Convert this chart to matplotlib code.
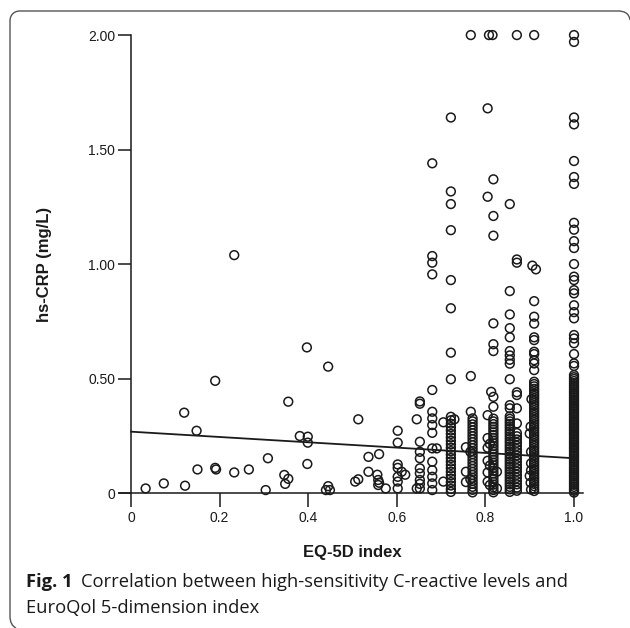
"""
Scatter of hs-CRP against EQ-5D index with linear fit line.
Output: out.png
"""

import matplotlib
matplotlib.use("Agg")
import matplotlib.pyplot as plt
from matplotlib.path import Path
from matplotlib.patches import PathPatch

# ─── Data ────────────────────────────────────────────────────────────────────

# scattered points below EQ-5D 0.6
low_x = [0.033, 0.074, 0.122, 0.120, 0.148, 0.150, 0.190, 0.190, 0.192, 0.233,
         0.233, 0.266, 0.304, 0.309, 0.355, 0.346, 0.355, 0.348, 0.381, 0.399,
         0.399, 0.398, 0.397, 0.445, 0.440, 0.445, 0.449, 0.513, 0.506, 0.513,
         0.536, 0.560, 0.536, 0.556, 0.558, 0.560, 0.558, 0.575]
low_y = [0.020, 0.042, 0.032, 0.351, 0.272, 0.103, 0.490, 0.110, 0.103, 1.039,
         0.090, 0.103, 0.013, 0.152, 0.399, 0.079, 0.062, 0.040, 0.249, 0.246,
         0.220, 0.127, 0.636, 0.552, 0.013, 0.030, 0.013, 0.322, 0.050, 0.060,
         0.158, 0.170, 0.093, 0.080, 0.057, 0.045, 0.035, 0.020]

# odd points next to the dense columns
extra_x = [0.611, 0.619, 0.645, 0.645, 0.690, 0.705, 0.705, 0.730, 0.808, 0.816,
           0.813, 0.826, 0.826, 0.906, 0.914, 0.904, 0.902, 0.900, 0.900, 0.902,
           0.810, 0.810, 0.810, 0.903, 0.903, 0.903, 0.903, 0.766, 0.766]
extra_y = [0.093, 0.080, 0.322, 0.020, 0.195, 0.309, 0.050, 0.322, 2.000, 2.000,
           0.442, 0.093, 0.020, 0.993, 0.977, 0.410, 0.290, 0.260, 0.075, 0.045,
           0.215, 0.120, 0.035, 0.180, 0.130, 0.100, 0.015, 0.180, 0.060]

# stacked columns: one EQ-5D value each
col_060 = [0.272, 0.220, 0.125, 0.110, 0.071, 0.050, 0.020]
col_065 = [0.400, 0.390, 0.224, 0.180, 0.152, 0.108, 0.086, 0.057, 0.040, 0.020]
col_068 = [1.440, 1.035, 1.006, 0.955, 0.450, 0.355, 0.326, 0.297, 0.263, 0.195,
           0.137, 0.100, 0.071, 0.042, 0.013]
col_072 = [1.640, 1.317, 1.262, 1.148, 0.930, 0.807, 0.613, 0.497,
           0.333, 0.318, 0.303, 0.288, 0.273, 0.258, 0.243, 0.228, 0.213, 0.198,
           0.183, 0.168, 0.153, 0.138, 0.123, 0.108, 0.093, 0.078, 0.063, 0.048,
           0.033, 0.018, 0.005]
col_076 = [0.200, 0.093, 0.048]
col_0767 = [2.000, 0.511, 0.355]
col_077 = [0.326, 0.313, 0.300, 0.287, 0.274, 0.261, 0.248, 0.235, 0.222, 0.209,
           0.196, 0.183, 0.170, 0.157, 0.144, 0.131, 0.118, 0.105, 0.092, 0.079,
           0.066, 0.053, 0.040, 0.027, 0.014, 0.003]
col_0805 = [1.680, 1.294, 0.340, 0.240, 0.198, 0.141, 0.090, 0.050]
col_082 = [1.370, 1.210, 1.124, 0.741, 0.650, 0.620, 0.420, 0.377,
           0.325, 0.313, 0.301, 0.289, 0.277, 0.265, 0.253, 0.241, 0.229, 0.217,
           0.205, 0.193, 0.181, 0.169, 0.157, 0.145, 0.133, 0.121, 0.109, 0.097,
           0.085, 0.073, 0.061, 0.049, 0.037, 0.025, 0.013, 0.003]
col_086 = [1.262, 0.882, 0.780, 0.720, 0.680, 0.620, 0.601, 0.582, 0.565, 0.497,
           0.384, 0.370,
           0.335, 0.324, 0.313, 0.302, 0.291, 0.280, 0.269, 0.258, 0.247, 0.236,
           0.225, 0.214, 0.203, 0.192, 0.181, 0.170, 0.159, 0.148, 0.137, 0.126,
           0.115, 0.104, 0.093, 0.082, 0.071, 0.060, 0.049, 0.038, 0.027, 0.016,
           0.005]
col_087 = [2.000, 1.020, 1.006, 0.440, 0.428, 0.370, 0.304,
           0.262, 0.248, 0.234, 0.220, 0.206, 0.192, 0.178, 0.164, 0.150, 0.136,
           0.122, 0.108, 0.094, 0.080, 0.066, 0.052, 0.038, 0.024, 0.010]
col_091 = [2.000, 0.838, 0.770, 0.740, 0.680, 0.668, 0.617, 0.607, 0.580, 0.566,
           0.537,
           0.486, 0.476, 0.466, 0.455, 0.445, 0.434, 0.424, 0.414, 0.403, 0.393,
           0.383, 0.372, 0.362, 0.351, 0.341, 0.331, 0.320, 0.310, 0.300, 0.289,
           0.279, 0.268, 0.258, 0.248, 0.237, 0.227, 0.217, 0.206, 0.196, 0.185,
           0.175, 0.165, 0.154, 0.144, 0.134, 0.123, 0.113, 0.102, 0.092, 0.082,
           0.071, 0.061, 0.051, 0.040, 0.030, 0.019, 0.009]
col_100 = [2.000, 1.970, 1.640, 1.610, 1.450, 1.380, 1.350, 1.180, 1.150, 1.100,
           1.070, 1.000, 0.945, 0.930, 0.886, 0.872, 0.820, 0.790, 0.763, 0.690,
           0.675, 0.654, 0.607, 0.566, 0.555,
           0.515, 0.506, 0.498, 0.489, 0.480, 0.471, 0.463, 0.454, 0.445, 0.437,
           0.428, 0.419, 0.410, 0.402, 0.393, 0.384, 0.376, 0.367, 0.358, 0.349,
           0.341, 0.332, 0.323, 0.315, 0.306, 0.297, 0.288, 0.280, 0.271, 0.262,
           0.254, 0.245, 0.236, 0.227, 0.219, 0.210, 0.201, 0.193, 0.184, 0.175,
           0.166, 0.158, 0.149, 0.140, 0.132, 0.123, 0.114, 0.105, 0.097, 0.088,
           0.079, 0.071, 0.062, 0.053, 0.044, 0.036, 0.027, 0.018, 0.010, 0.002]

columns = {
    0.602: col_060, 0.652: col_065, 0.680: col_068, 0.722: col_072,
    0.756: col_076, 0.767: col_0767, 0.771: col_077, 0.805: col_0805,
    0.818: col_082, 0.855: col_086, 0.871: col_087, 0.910: col_091,
    1.000: col_100,
}

# regression line end points
fit_x = [0.0, 1.0]
fit_y = [0.268, 0.152]

x_ticks = [0, 0.2, 0.4, 0.6, 0.8, 1.0]
x_tick_labels = ["0", "0.2", "0.4", "0.6", "0.8", "1.0"]
y_ticks = [0, 0.5, 1.0, 1.5, 2.0]
y_tick_labels = ["0", "0.50", "1.00", "1.50", "2.00"]

# ─── Assemble points ─────────────────────────────────────────────────────────

xs = list(low_x) + list(extra_x)
ys = list(low_y) + list(extra_y)
for cx, vals in columns.items():
    xs += [cx] * len(vals)
    ys += vals

# ─── Figure ──────────────────────────────────────────────────────────────────

W, H = 630, 628
fig = plt.figure(figsize=(W / 100, H / 100), dpi=100)
fig.patch.set_facecolor("white")

AX_FONT = "Liberation Sans"
CAP_FONT = "Open Sans"
INK = "#1a1a1a"

ax = fig.add_axes([0.1728, 0.2076, 0.7735, 0.7548])
ax.set_xlim(-0.05, 1.05)
ax.set_ylim(-0.02, 2.05)

ax.scatter(xs, ys, s=40, facecolors="none", edgecolors=INK,
           linewidths=1.1, clip_on=False, zorder=3)
ax.plot(fit_x, fit_y, color=INK, linewidth=1.3, zorder=4)

# axis look: y spine at x=0, bottom spine slightly longer than data range
for side in ["top", "right"]:
    ax.spines[side].set_visible(False)
ax.spines["left"].set_position(("data", 0))
ax.spines["left"].set_bounds(0, 2.0)
ax.spines["bottom"].set_position(("data", 0))
ax.spines["bottom"].set_bounds(-0.027, 1.02)
for side in ["left", "bottom"]:
    ax.spines[side].set_linewidth(1.1)
    ax.spines[side].set_color(INK)

ax.set_xticks(x_ticks)
ax.set_xticklabels(x_tick_labels)
ax.set_yticks(y_ticks)
ax.set_yticklabels(y_tick_labels)
ax.tick_params(axis="both", direction="out", width=1.1, color=INK,
               labelcolor=INK, labelsize=10)
ax.tick_params(axis="x", length=10, pad=3)
ax.tick_params(axis="y", length=9.5, pad=2)
for lab in ax.get_xticklabels() + ax.get_yticklabels():
    lab.set_fontfamily(AX_FONT)

ax.set_xlabel("EQ-5D index", fontfamily=AX_FONT, fontsize=12,
              fontweight="bold", color=INK)
ax.xaxis.set_label_coords(0.5 * (0.05 + 1.05) / 1.1, -0.1)
ax.set_ylabel("hs-CRP (mg/L)", fontfamily=AX_FONT, fontsize=12,
              fontweight="bold", color=INK)
ax.yaxis.set_label_coords(-0.117, (0.02 + 1.0) / 2.07)

# ─── Caption ─────────────────────────────────────────────────────────────────

cap_x = 26 / W
cap_size = 13.2
fig_lab = fig.text(cap_x, 1 - 582 / H, "Fig. 1", fontfamily=CAP_FONT,
                   fontweight="bold", fontsize=cap_size, color=INK, va="center")
ax.annotate("Correlation between high-sensitivity C-reactive levels and",
            xy=(1, 0.5), xycoords=fig_lab, xytext=(6, 0),
            textcoords="offset points", va="center", ha="left",
            fontfamily=CAP_FONT, fontsize=cap_size, color=INK,
            annotation_clip=False)
fig.text(cap_x, 1 - 608 / H, "EuroQol 5-dimension index", fontfamily=CAP_FONT,
         fontsize=cap_size, color=INK, va="center")

# ─── Panel frame (open rounded box) ──────────────────────────────────────────

def px(x, y):
    return (x / W, 1 - y / H)

verts = [px(630, 20), px(629, 13), px(624, 11), px(618, 11),
         px(20, 11),
         px(14, 11), px(10, 15), px(10, 21),
         px(10, 616),
         px(10, 622), px(12, 626), px(16, 628)]
codes = [Path.MOVETO, Path.CURVE4, Path.CURVE4, Path.CURVE4,
         Path.LINETO,
         Path.CURVE4, Path.CURVE4, Path.CURVE4,
         Path.LINETO,
         Path.CURVE4, Path.CURVE4, Path.CURVE4]
frame = PathPatch(Path(verts, codes), transform=fig.transFigure,
                  facecolor="none", edgecolor="#555555", linewidth=1.0)
fig.patches.append(frame)

fig.savefig("out.png", dpi=100, facecolor="white")
